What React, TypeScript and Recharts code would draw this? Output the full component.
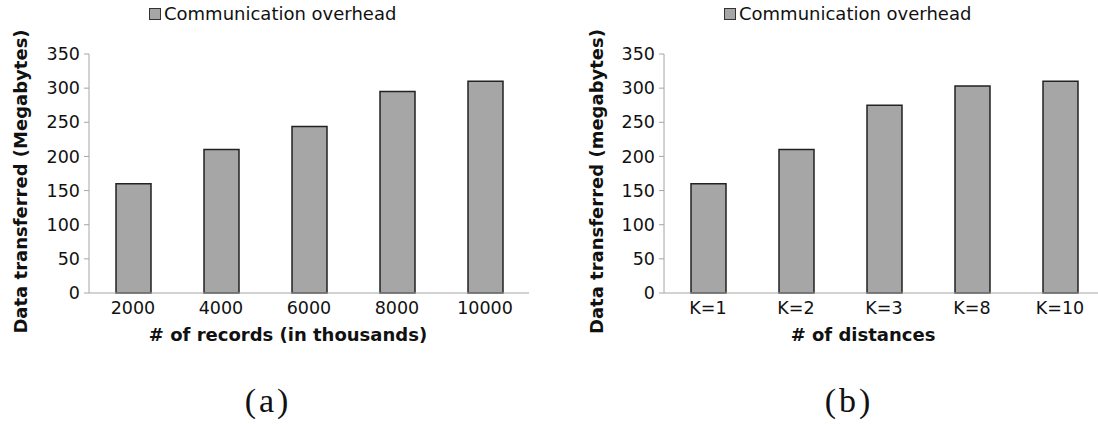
import { BarChart, Bar, XAxis, YAxis, Legend } from 'recharts';

const recordCategories = ['2000', '4000', '6000', '8000', '10000'];
const recordOverhead = [160, 210, 244, 295, 310];

const distanceCategories = ['K=1', 'K=2', 'K=3', 'K=8', 'K=10'];
const distanceOverhead = [160, 210, 275, 303, 310];

const yTicks = [0, 50, 100, 150, 200, 250, 300, 350];

const SERIES_NAME = 'Communication overhead';
const FONT = '"DejaVu Sans", Verdana, sans-serif';
const AXIS_GREY = '#a6a6a6';
const BAR_FILL = '#a6a6a6';

// legend: small grey square + label, like the spreadsheet export
function OverheadLegend() {
  return (
    <div style={{ display: 'flex', alignItems: 'center', fontFamily: FONT, fontSize: 18, color: '#111', lineHeight: '20px' }}>
      <span style={{ width: 10, height: 10, background: BAR_FILL, border: '1px solid #333', marginRight: 3, display: 'inline-block' }} />
      <span>{SERIES_NAME}</span>
    </div>
  );
}

interface TitleProps {
  viewBox?: { x: number; y: number; width: number; height: number };
  value: string;
  cx: number;
}

// rotated y-axis title placed at a fixed distance from the chart's left edge
function YTitle({ viewBox, value, cx }: TitleProps) {
  if (!viewBox) return null;
  const cy = viewBox.y + viewBox.height / 2 + 8;
  return (
    <text
      transform={`translate(${cx}, ${cy}) rotate(-90)`}
      textAnchor="middle"
      dominantBaseline="central"
      fontFamily={FONT}
      fontSize={18}
      fontWeight="bold"
      fill="#111"
    >
      {value}
    </text>
  );
}

interface PanelProps {
  categories: string[];
  values: number[];
  yTitle: string;
  xTitle: string;
  axisWidth: number;
  rightMargin: number;
  titleX: number;
}

function OverheadPanel({ categories, values, yTitle, xTitle, axisWidth, rightMargin, titleX }: PanelProps) {
  const data = categories.map((name, i) => ({ name, overhead: values[i] }));
  return (
    <BarChart
      width={545}
      height={360}
      data={data}
      margin={{ top: 34, right: rightMargin, left: 0, bottom: 0 }}
      barSize={35}
    >
      <Legend
        layout="vertical"
        align="center"
        verticalAlign="top"
        content={<OverheadLegend />}
        wrapperStyle={{ top: 4, left: axisWidth + 60, width: 'auto' }}
      />
      <XAxis
        dataKey="name"
        height={67}
        stroke={AXIS_GREY}
        tickLine={false}
        tickSize={0}
        tickMargin={9}
        tick={{ fill: '#111', fontSize: 17.5, fontFamily: FONT }}
        label={{ value: xTitle, position: 'insideBottom', offset: 19, dx: -21, fill: '#111', fontSize: 18, fontWeight: 'bold', fontFamily: FONT }}
      />
      <YAxis
        width={axisWidth}
        domain={[0, 350]}
        ticks={yTicks}
        interval={0}
        stroke={AXIS_GREY}
        tickSize={5}
        tickMargin={4}
        tick={{ fill: '#111', fontSize: 17.5, fontFamily: FONT }}
        label={<YTitle value={yTitle} cx={titleX} />}
      />
      <Bar dataKey="overhead" name={SERIES_NAME} fill={BAR_FILL} stroke="#222" strokeWidth={1.5} isAnimationActive={false} />
    </BarChart>
  );
}

const captionStyle: React.CSSProperties = {
  position: 'absolute',
  top: 382,
  width: 120,
  textAlign: 'center',
  fontFamily: '"Liberation Serif", "DejaVu Serif", serif',
  fontSize: 34,
  letterSpacing: 3,
  color: '#111',
};

export default function App() {
  return (
    <div style={{ position: 'absolute', left: 0, top: 0, width: 1098, height: 424, overflow: 'hidden', background: '#fff' }}>
      <div style={{ position: 'absolute', left: 0, top: 0 }}>
        <OverheadPanel
          categories={recordCategories}
          values={recordOverhead}
          yTitle="Data transferred (Megabytes)"
          xTitle="# of records (in thousands)"
          axisWidth={89}
          rightMargin={16}
          titleX={20}
        />
      </div>
      <div style={{ position: 'absolute', left: 560, top: 0 }}>
        <OverheadPanel
          categories={distanceCategories}
          values={distanceOverhead}
          yTitle="Data transferred (megabytes)"
          xTitle="# of distances"
          axisWidth={104}
          rightMargin={1}
          titleX={36}
        />
      </div>
      <div style={{ ...captionStyle, left: 268 - 60 }}>(a)</div>
      <div style={{ ...captionStyle, left: 849 - 60 }}>(b)</div>
    </div>
  );
}
